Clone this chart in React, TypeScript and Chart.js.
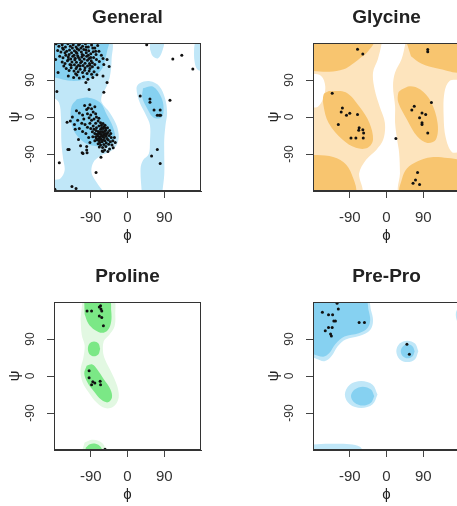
import React, { useEffect, useRef } from "react";
import { Chart, registerables } from "chart.js";

Chart.register(...registerables);

type Pt = [number, number];

const FONT = "'Liberation Sans', Arial, sans-serif";

const xTicks = [-90, 0, 90];
const yTicks = [-90, 0, 90];
const xTitle = "\u03D5";
const yTitle = "\u03C8";

// ---------- General ----------
const generalPoints: Pt[] = [
  [-175, 178], [-168, 172], [-160, 176], [-152, 170], [-146, 178], [-140, 172], [-133, 176], [-126, 170], [-118, 177], [-110, 172], [-103, 178], [-96, 170], [-88, 175], [-80, 168], [-73, 174],
  [-171, 162], [-163, 158], [-157, 165], [-149, 160], [-142, 163], [-137, 156], [-130, 161], [-124, 155], [-119, 163], [-113, 158], [-107, 164], [-101, 156], [-95, 161], [-90, 154], [-84, 159], [-77, 152], [-70, 160], [-64, 150],
  [-166, 148], [-158, 144], [-151, 150], [-145, 146], [-139, 141], [-134, 148], [-128, 143], [-122, 149], [-117, 140], [-112, 146], [-106, 141], [-100, 148], [-94, 142], [-89, 137], [-83, 145], [-76, 140], [-69, 135], [-60, 142],
  [-160, 134], [-153, 130], [-147, 137], [-141, 128], [-136, 134], [-130, 127], [-125, 133], [-120, 126], [-115, 132], [-109, 125], [-104, 131], [-98, 124], [-93, 130], [-86, 122], [-80, 128], [-72, 120], [-58, 128],
  [-150, 118], [-143, 113], [-138, 120], [-131, 112], [-126, 118], [-121, 110], [-116, 116], [-110, 108], [-105, 114], [-99, 106], [-94, 112], [-88, 104], [-82, 110], [-75, 103],
  [-145, 100], [-132, 96], [-124, 102], [-118, 95], [-108, 98], [-97, 92], [-85, 96],
  [-156, 124], [-129, 139], [-111, 152], [-123, 166], [-135, 168], [-143, 152], [-98, 138], [-116, 124], [-104, 120], [-92, 118], [-127, 105],
  [-131, 150], [-126, 158], [-120, 145], [-114, 168], [-108, 150], [-102, 163], [-96, 150], [-90, 145], [-86, 132], [-92, 126], [-112, 135], [-124, 122], [-138, 126], [-145, 140], [-153, 156], [-159, 168], [-120, 175], [-101, 170], [-85, 168], [-78, 160],
  [-173, 62], [-102, 84], [-94, 67], [-58, 60], [-50, 84], [-45, 123], [-50, 140], [-170, 108], [-176, 140], [-60, 100],
  [-70, -40], [-65, -42], [-60, -38], [-63, -45], [-68, -48], [-58, -44], [-55, -40], [-62, -35], [-72, -35], [-66, -30], [-60, -28], [-75, -42], [-78, -48], [-70, -52], [-64, -55], [-57, -50], [-52, -46], [-50, -52], [-55, -58], [-62, -60], [-68, -62], [-74, -56], [-80, -40], [-82, -30], [-76, -26], [-70, -22], [-64, -20], [-58, -24], [-53, -32], [-48, -38], [-45, -45], [-47, -56], [-52, -63], [-58, -67], [-66, -68], [-72, -65], [-80, -58], [-85, -48], [-86, -36], [-84, -22], [-78, -15], [-72, -10], [-66, -14], [-60, -16], [-55, -20], [-49, -26], [-44, -33], [-41, -40], [-40, -50], [-42, -60], [-46, -66], [-53, -72], [-61, -74], [-69, -73],
  [-67, -36], [-61, -48], [-56, -34], [-73, -46], [-66, -52], [-59, -56], [-51, -41], [-77, -33], [-63, -26], [-54, -27], [-69, -58], [-76, -52],
  [-90, -28], [-92, -15], [-88, -8], [-82, -5], [-76, 0], [-70, -3], [-94, -2], [-98, 8], [-90, 5], [-84, 12], [-78, 8], [-100, 18], [-96, 22], [-88, 20], [-107, -5], [-112, -15], [-104, -18], [-98, -25], [-110, -35], [-118, -28], [-122, -8], [-130, -18], [-36, -58], [-38, -68], [-35, -75], [-44, -78], [-56, -80], [-48, -84], [-62, -83], [-30, -62], [-32, -50], [-102, -40], [-95, -50], [-92, -62], [-100, -72], [-120, -55], [-115, -70], [-128, -30], [-110, 5], [-118, 10], [-105, 28], [-92, 30], [-80, 25], [-125, 15], [-135, 0], [-140, -10],
  [47, 176], [111, 141], [133, 150], [160, 117], [31, 51], [55, 44], [55, 36], [104, 41], [65, 17], [80, 17], [73, 4], [78, 4], [81, 4], [73, -79], [59, -95], [80, -113],
  [-148, -13], [-143, -79], [-167, -111], [-111, -87], [-99, -87], [-100, -80], [-77, -135], [-136, -169], [-126, -174], [-178, -176], [-60, -84], [-65, -98], [-109, -89], [-146, -79],
];
const generalLight: Pt[][] = [
  [[-185, 185], [-42, 185], [-39, 140], [-43, 99], [-51, 75], [-63, 51], [-63, 35], [-43, 10], [-26, -22], [-22, -55], [-35, -79], [-67, -95], [-84, -111], [-88, -136], [-75, -160], [-62, -185], [-185, -185], [-185, -155], [-165, -150], [-154, -130], [-158, -100], [-162, -60], [-163, 0], [-168, 35], [-185, 50]],
  [[35, -185], [32, -125], [38, -105], [52, -90], [55, -60], [55, -20], [45, 5], [30, 35], [22, 70], [30, 82], [55, 87], [78, 75], [92, 45], [97, 10], [93, -20], [90, -55], [90, -95], [90, -140], [85, -185]],
  [[55, 185], [88, 185], [85, 160], [75, 143], [62, 148], [55, 165]],
  [[185, 185], [168, 185], [163, 160], [165, 130], [172, 115], [185, 112]],
];
const generalDark: Pt[][] = [
  [[-185, 185], [-48, 185], [-50, 160], [-55, 140], [-62, 118], [-80, 100], [-110, 90], [-140, 88], [-165, 93], [-185, 98]],
  [[-124, 43], [-96, 47], [-67, 35], [-51, 6], [-35, -26], [-31, -55], [-47, -71], [-75, -71], [-104, -63], [-129, -38], [-139, -6], [-137, 26], [-124, 43]],
  [[38, 70], [62, 74], [84, 45], [88, 10], [80, -3], [62, 0], [46, 25], [36, 48], [38, 70]],
];

// ---------- Glycine ----------
const glycinePoints: Pt[] = [
  [-71, 165], [-58, 153], [101, 164], [101, 159], [-133, 58], [-108, 22], [-111, 12], [-98, 4], [-90, 9], [-71, 6], [-118, -18], [-67, -26], [-68, -32], [-58, -31], [-87, -51], [-75, -51], [-57, -51], [-56, -39],
  [23, -52], [68, 26], [62, 17], [87, 10], [96, 6], [81, -2], [87, -14], [87, -18], [110, 35], [101, -39], [76, -135], [71, -153], [65, -161], [81, -164],
];
const glycineLight: Pt[][] = [
  [[-185, 185], [-12, 185], [-12, 178], [-21, 141], [-33, 108], [-29, 67], [-17, 26], [-4, -14], [-8, -55], [-25, -80], [-50, -104], [-67, -137], [-62, -185], [-185, -185], [-185, 20], [-168, 25], [-155, 45], [-150, 75], [-160, 100], [-185, 106]],
  [[46, 185], [46, 178], [37, 141], [21, 108], [16, 75], [21, 26], [21, -14], [26, -55], [31, -88], [33, -137], [33, -185], [185, -185], [185, -90], [160, -85], [145, -50], [140, 0], [142, 60], [155, 88], [185, 95], [185, 185]],
];
const glycineDark: Pt[][] = [
  [[-185, 185], [-32, 185], [-45, 160], [-65, 143], [-85, 128], [-105, 116], [-140, 110], [-185, 112]],
  [[-141, 63], [-100, 60], [-67, 26], [-42, -14], [-33, -55], [-46, -75], [-75, -75], [-108, -55], [-142, -14], [-154, 26], [-154, 55], [-141, 63]],
  [[-185, -185], [-78, -185], [-85, -140], [-105, -110], [-140, -95], [-185, -92]],
  [[48, 185], [185, 185], [185, 112], [125, 118], [85, 130], [60, 148]],
  [[37, 67], [58, 75], [83, 67], [108, 39], [125, -14], [121, -55], [100, -63], [75, -47], [50, -6], [29, 35], [29, 59], [37, 67]],
  [[185, -185], [35, -185], [38, -150], [50, -125], [75, -108], [110, -98], [150, -100], [185, -105]],
];

// ---------- Proline ----------
const prolinePoints: Pt[] = [
  [-99, 158], [-88, 158], [-69, 168], [-65, 163], [-63, 158], [-69, 146], [-63, 142], [-59, 122], [-66, 171],
  [-94, 13], [-94, -4], [-85, -14], [-88, -21], [-80, -17], [-67, -13], [-66, -21], [-55, -178],
];
const prolineLight: Pt[][] = [
  [[-110, 185], [-35, 185], [-30, 150], [-32, 120], [-45, 100], [-58, 85], [-60, 60], [-55, 40], [-40, 10], [-25, -25], [-22, -55], [-35, -75], [-55, -78], [-75, -65], [-95, -40], [-110, -15], [-115, 15], [-108, 45], [-105, 75], [-112, 100], [-115, 140]],
  [[-112, -185], [-55, -185], [-58, -168], [-70, -158], [-88, -155], [-105, -162]],
];
const prolineDark: Pt[][] = [
  [[-106, 185], [-45, 185], [-40, 160], [-40, 132], [-48, 112], [-62, 105], [-80, 112], [-96, 128], [-105, 150]],
  [[-67, 66], [-71, 79], [-82, 84], [-93, 79], [-97, 66], [-93, 53], [-82, 48], [-71, 53], [-67, 66]],
  [[-100, 25], [-86, 28], [-74, 16], [-58, -8], [-42, -32], [-38, -52], [-48, -64], [-64, -58], [-82, -38], [-98, -16], [-106, 6], [-100, 25]],
  [[-104, -185], [-62, -185], [-66, -172], [-78, -165], [-92, -166], [-102, -174]],
];

// ---------- Pre-Pro ----------
const preproPoints: Pt[] = [
  [-121, 177], [-118, 163], [-157, 155], [-142, 149], [-132, 149], [-129, 134], [-125, 134], [-142, 118], [-133, 118], [-150, 110], [-137, 102], [-135, 97], [-67, 130], [-54, 130], [50, 77], [56, 53],
];
const preproLight: Pt[][] = [
  [[-185, 185], [-47, 185], [-38, 160], [-33, 134], [-40, 112], [-65, 98], [-100, 89], [-120, 72], [-135, 48], [-152, 36], [-172, 42], [-185, 48]],
  [[78, 60], [70, 79], [51, 86], [32, 79], [24, 60], [32, 41], [51, 34], [70, 41], [78, 60]],
  [[-22, -45], [-34, -21], [-62, -12], [-90, -21], [-102, -45], [-90, -69], [-62, -78], [-34, -69], [-22, -45]],
  [[-185, -185], [-60, -185], [-65, -172], [-90, -166], [-140, -165], [-185, -167]],
  [[185, 170], [172, 160], [170, 145], [176, 128], [185, 122]],
];
const preproDark: Pt[][] = [
  [[-185, 185], [-52, 185], [-44, 160], [-40, 135], [-47, 116], [-68, 104], [-103, 96], [-125, 78], [-140, 56], [-155, 47], [-185, 55]],
  [[69, 60], [64, 72], [52, 77], [40, 72], [35, 60], [40, 48], [52, 43], [64, 48], [69, 60]],
  [[-30, -49], [-38, -33], [-58, -26], [-78, -33], [-87, -49], [-78, -65], [-58, -72], [-38, -65], [-30, -49]],
];

const BLUE_LIGHT = "#c0e7f8";
const BLUE_DARK = "#86d1f1";
const ORANGE_LIGHT = "#fde4bd";
const ORANGE_DARK = "#f8c56f";
const GREEN_LIGHT = "#e2f8e2";
const GREEN_DARK = "#7be886";

const toXY = (a: Pt[]) => a.map(([x, y]) => ({ x, y }));

const boxPlugin = {
  id: "plotBox",
  afterDatasetsDraw(chart: any) {
    const { ctx, chartArea: a } = chart;
    ctx.save();
    ctx.strokeStyle = "#333";
    ctx.lineWidth = 1;
    const l = Math.round(a.left) + 0.5;
    const t = Math.round(a.top) + 0.5;
    ctx.strokeRect(l, t, Math.round(a.right) - Math.round(a.left) - 1, Math.round(a.bottom) - Math.round(a.top) - 1);
    ctx.restore();
  },
};

interface PanelProps {
  title: string;
  points: Pt[];
  light: Pt[][];
  dark: Pt[][];
  lightColor: string;
  darkColor: string;
  left: number;
  top: number;
}

function Panel({ title, points, light, dark, lightColor, darkColor, left, top }: PanelProps) {
  const ref = useRef<HTMLCanvasElement | null>(null);
  useEffect(() => {
    if (!ref.current) return;
    const region = (poly: Pt[], color: string, order: number) => ({
      data: toXY(poly),
      showLine: true,
      fill: "shape",
      backgroundColor: color,
      borderColor: "rgba(0,0,0,0)",
      borderWidth: 0,
      pointRadius: 0,
      pointHoverRadius: 0,
      tension: 0.35,
      order,
    });
    const chart = new Chart(ref.current, {
      type: "scatter",
      data: {
        datasets: [
          {
            data: toXY(points),
            showLine: false,
            pointRadius: 1.5,
            pointBackgroundColor: "#111",
            pointBorderColor: "#111",
            pointBorderWidth: 0,
            order: 0,
          } as any,
          ...dark.map((p) => region(p, darkColor, 1) as any),
          ...light.map((p) => region(p, lightColor, 2) as any),
        ],
      },
      options: {
        animation: false,
        responsive: false,
        events: [],
        layout: { padding: { left: 0, right: 27, top: 0, bottom: 0 } },
        plugins: {
          legend: { display: false },
          tooltip: { enabled: false },
          title: {
            display: true,
            text: title,
            fullSize: false,
            color: "#222",
            font: { family: FONT, size: 19, weight: "bold", lineHeight: "23px" } as any,
            padding: { top: 6, bottom: 14 },
          },
        },
        scales: {
          x: {
            type: "linear",
            min: -180,
            max: 180,
            afterBuildTicks: (s: any) => {
              s.ticks = xTicks.map((v) => ({ value: v }));
            },
            afterFit: (s: any) => {
              s.height = 59;
            },
            ticks: { font: { family: FONT, size: 15 }, color: "#333", padding: 11, autoSkip: false, maxRotation: 0 },
            grid: { drawOnChartArea: false, tickLength: 7, color: "#444", tickColor: "#444" },
            border: { display: true, color: "#333" },
            title: { display: true, text: xTitle, color: "#222", font: { family: FONT, size: 15 }, padding: { top: 0, bottom: 5 } },
          },
          y: {
            type: "linear",
            min: -180,
            max: 180,
            afterBuildTicks: (s: any) => {
              s.ticks = yTicks.map((v) => ({ value: v }));
            },
            afterFit: (s: any) => {
              s.width = 54;
            },
            ticks: { font: { family: FONT, size: 12 }, color: "#333", padding: 8, autoSkip: false, minRotation: 90, maxRotation: 90, crossAlign: "center" },
            grid: { drawOnChartArea: false, tickLength: 7, color: "#444", tickColor: "#444" },
            border: { display: true, color: "#333" },
            title: { display: true, text: yTitle, color: "#222", font: { family: FONT, size: 15 }, padding: { top: 6, bottom: 0 } },
          },
        },
      } as any,
      plugins: [boxPlugin],
    });
    return () => chart.destroy();
  }, []);
  return (
    <canvas
      ref={ref}
      width={228}
      height={250}
      style={{ position: "absolute", left, top, width: 228, height: 250 }}
    />
  );
}

export default function App() {
  return (
    <div style={{ position: "fixed", left: 0, top: 0, width: 457, height: 506, overflow: "hidden", background: "#fff" }}>
      <Panel title="General" points={generalPoints} light={generalLight} dark={generalDark} lightColor={BLUE_LIGHT} darkColor={BLUE_DARK} left={0} top={0} />
      <Panel title="Glycine" points={glycinePoints} light={glycineLight} dark={glycineDark} lightColor={ORANGE_LIGHT} darkColor={ORANGE_DARK} left={259} top={0} />
      <Panel title="Proline" points={prolinePoints} light={prolineLight} dark={prolineDark} lightColor={GREEN_LIGHT} darkColor={GREEN_DARK} left={0} top={259} />
      <Panel title="Pre-Pro" points={preproPoints} light={preproLight} dark={preproDark} lightColor={BLUE_LIGHT} darkColor={BLUE_DARK} left={259} top={259} />
    </div>
  );
}
